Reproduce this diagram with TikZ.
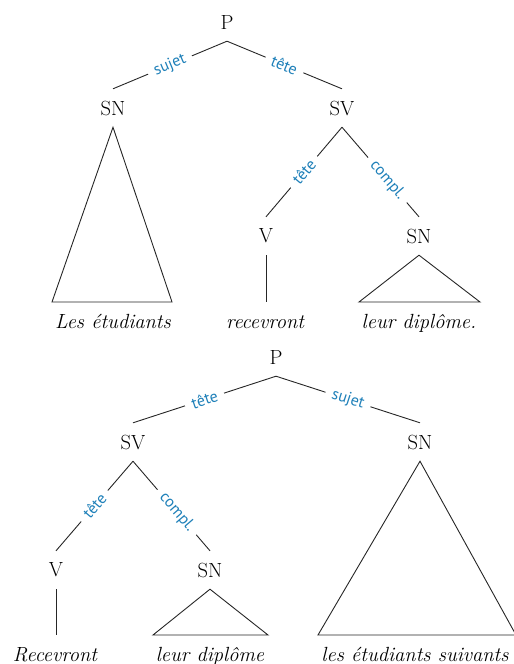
\documentclass[tikz,border=0pt]{standalone}
\usepackage{fontspec}
\newfontfamily\lblfont{PT Sans}
\definecolor{lblblue}{RGB}{30,128,185}
\begin{document}
\begin{tikzpicture}[x=1pt,y=-1pt,
  cat/.style={font=\fontsize{20.5}{24}\selectfont, inner sep=0pt, minimum height=38pt},
  word/.style={font=\fontsize{20.5}{24}\selectfont\itshape, inner sep=0pt, text height=26pt, text depth=5pt, anchor=base},
  rel/.style={font=\lblfont\fontsize{16}{18}\selectfont, text=lblblue, fill=white, sloped, inner xsep=7pt, inner ysep=1pt},
  edge/.style={draw=black!85, line width=0.9pt}
]
\useasboundingbox (0,0) rectangle (514,664);
% ---------- Tree 1 ----------
\node[cat] (P1) at (227,22) {P};
\node[cat] (SN1) at (113,108) {SN};
\node[cat] (SV1) at (342,108) {SV};
\node[cat] (V1) at (266,236) {V};
\node[cat] (SN1b) at (419,236) {SN};
\node[word] (w1a) at (113,328) {Les étudiants};
\node[word] (w1b) at (265,328) {recevront};
\node[word] (w1c) at (419,328) {leur diplôme.};
\coordinate (t1al) at (52,302);
\coordinate (t1ar) at (172,302);
\coordinate (t1cl) at (359,302);
\coordinate (t1cr) at (480,302);

\draw[edge] (P1.south) -- node[rel, pos=0.5] {sujet} (SN1.north);
\draw[edge] (P1.south) -- node[rel, pos=0.5] {tête} (SV1.north);
\draw[edge] (SV1.south) -- node[rel, pos=0.5] {tête} (V1.north);
\draw[edge] (SV1.south) -- node[rel, pos=0.59] {compl.} (SN1b.north);
\draw[edge] (SN1.south) -- (t1al) -- (t1ar) -- cycle;
\draw[edge] (V1.south) -- (V1.south |- t1al);
\draw[edge] (SN1b.south) -- (t1cl) -- (t1cr) -- cycle;

% ---------- Tree 2 ----------
\node[cat] (P2) at (276,357) {P};
\node[cat] (SV2) at (133,442) {SV};
\node[cat] (SN2) at (420,442) {SN};
\node[cat] (V2) at (56,570) {V};
\node[cat] (SN2b) at (210,570) {SN};
\node[word] (w2a) at (55,661) {Recevront};
\node[word] (w2b) at (210,661) {leur diplôme};
\node[word] (w2c) at (415,661) {les étudiants suivants};
\coordinate (t2bl) at (153,635);
\coordinate (t2br) at (268,635);
\coordinate (t2cl) at (318,635);
\coordinate (t2cr) at (516,635);

\draw[edge] (P2.south) -- node[rel, pos=0.5] {tête} (SV2.north);
\draw[edge] (P2.south) -- node[rel, pos=0.5] {sujet} (SN2.north);
\draw[edge] (SV2.south) -- node[rel, pos=0.5] {tête} (V2.north);
\draw[edge] (SV2.south) -- node[rel, pos=0.57] {compl.} (SN2b.north);
\draw[edge] (V2.south) -- (V2.south |- t2bl);
\draw[edge] (SN2b.south) -- (t2bl) -- (t2br) -- cycle;
\draw[edge] (SN2.south) -- (t2cl) -- (t2cr) -- cycle;
\end{tikzpicture}
\end{document}
